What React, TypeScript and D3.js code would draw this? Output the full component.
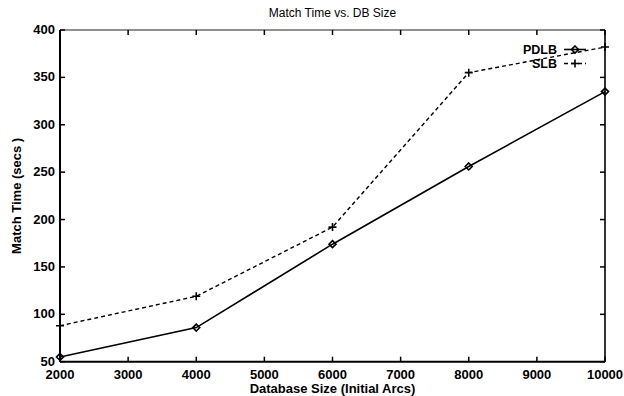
import React from "react";
import * as d3 from "d3";

const sizes = [2000, 4000, 6000, 8000, 10000];
const pdlb = [55, 86, 174, 256, 335];
const slb = [88, 119, 192, 355, 382];
const xTicks = [2000, 3000, 4000, 5000, 6000, 7000, 8000, 9000, 10000];
const yTicks = [50, 100, 150, 200, 250, 300, 350, 400];

const W = 624, H = 396;
const M = { left: 60, right: 605, top: 30, bottom: 361.7 };
const FONT = "'Liberation Sans', Arial, Helvetica, sans-serif";

export default function App() {
  const x = d3.scaleLinear().domain([2000, 10000]).range([M.left, M.right]);
  const y = d3.scaleLinear().domain([50, 400]).range([M.bottom, M.top]);
  const line = d3.line<number>().x((_, i) => x(sizes[i])).y((d) => y(d));
  const tl = 5;

  const diamond = (cx: number, cy: number, k: string) => (
    <path key={k} d={`M${cx},${cy - 3.5}L${cx + 3.5},${cy}L${cx},${cy + 3.5}L${cx - 3.5},${cy}Z`} fill="none" stroke="#000" strokeWidth={1.6} />
  );
  const plus = (cx: number, cy: number, k: string) => (
    <path key={k} d={`M${cx - 4},${cy}H${cx + 4}M${cx},${cy - 4}V${cy + 4}`} stroke="#000" strokeWidth={1.6} />
  );

  return (
    <svg width={W} height={H} style={{ position: "absolute", left: 0, top: 0, background: "#fff" }} fontFamily={FONT}>
      <rect width={W} height={H} fill="#fff" />
      {/* title */}
      <text x={(M.left + M.right) / 2} y={17} textAnchor="middle" fontSize={12} fill="#000">Match Time vs. DB Size</text>
      {/* frame */}
      <line x1={M.left} y1={M.top} x2={M.right} y2={M.top} stroke="#222" strokeWidth={1.2} />
      <line x1={M.right} y1={M.top} x2={M.right} y2={M.bottom} stroke="#000" strokeWidth={1.6} />
      <line x1={M.left} y1={M.top} x2={M.left} y2={M.bottom} stroke="#000" strokeWidth={2} />
      <line x1={M.left} y1={M.bottom} x2={M.right} y2={M.bottom} stroke="#000" strokeWidth={2} />
      {/* x ticks */}
      {xTicks.map((t) => (
        <g key={"x" + t}>
          <line x1={x(t)} x2={x(t)} y1={M.bottom} y2={M.bottom - tl} stroke="#000" strokeWidth={1.5} />
          <line x1={x(t)} x2={x(t)} y1={M.top} y2={M.top + tl} stroke="#000" strokeWidth={1.5} />
          <text x={x(t)} y={378.5} textAnchor="middle" fontSize={13} fontWeight="bold" fill="#000">{t}</text>
        </g>
      ))}
      {/* y ticks */}
      {yTicks.map((t) => (
        <g key={"y" + t}>
          <line x1={M.left} x2={M.left + tl} y1={y(t)} y2={y(t)} stroke="#000" strokeWidth={1.5} />
          <line x1={M.right} x2={M.right - tl} y1={y(t)} y2={y(t)} stroke="#000" strokeWidth={1.5} />
          <text x={M.left - 5} y={y(t) + 4} textAnchor="end" fontSize={13} fontWeight="bold" fill="#000">{t}</text>
        </g>
      ))}
      {/* axis labels */}
      <text x={(M.left + M.right) / 2} y={393} textAnchor="middle" fontSize={13} fontWeight="bold" fill="#000">Database Size (Initial Arcs)</text>
      <text transform={`translate(21,${(M.top + M.bottom) / 2}) rotate(-90)`} textAnchor="middle" fontSize={13} fontWeight="bold" fill="#000">Match Time (secs )</text>
      {/* series */}
      <path d={line(pdlb) || ""} fill="none" stroke="#000" strokeWidth={1.6} />
      <path d={line(slb) || ""} fill="none" stroke="#000" strokeWidth={1.4} strokeDasharray="4,3" />
      {pdlb.map((v, i) => diamond(x(sizes[i]), y(v), "d" + i))}
      {slb.map((v, i) => plus(x(sizes[i]), y(v), "p" + i))}
      {/* legend */}
      <text x={557} y={53.5} textAnchor="end" fontSize={12.5} fontWeight="bold" fill="#000">PDLB</text>
      <line x1={564} x2={586} y1={49.5} y2={49.5} stroke="#000" strokeWidth={1.6} />
      {diamond(575, 49.5, "ld")}
      <text x={557} y={68} textAnchor="end" fontSize={12.5} fontWeight="bold" fill="#000">SLB</text>
      <line x1={564} x2={586} y1={63.5} y2={63.5} stroke="#000" strokeWidth={1.4} strokeDasharray="4,3" />
      {plus(575, 63.5, "lp")}
    </svg>
  );
}
